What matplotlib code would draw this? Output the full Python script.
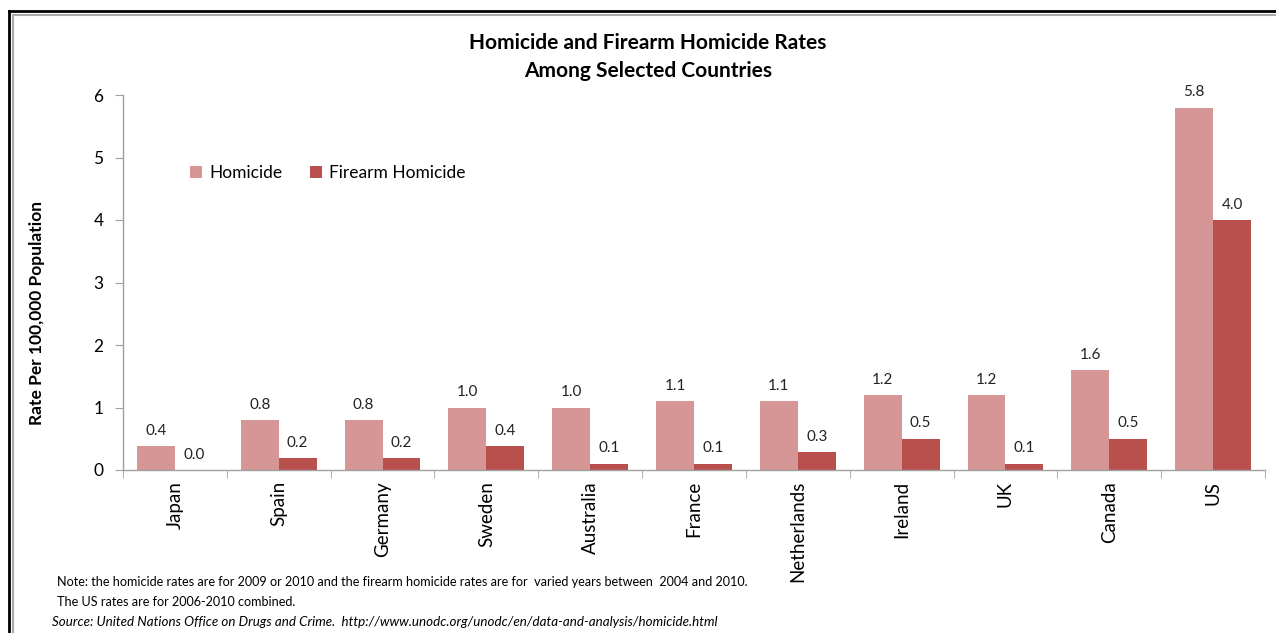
import matplotlib
matplotlib.use("Agg")
import matplotlib.pyplot as plt
from matplotlib.lines import Line2D
import numpy as np

countries = ["Japan", "Spain", "Germany", "Sweden", "Australia", "France",
             "Netherlands", "Ireland", "UK", "Canada", "US"]
homicide = [0.38, 0.8, 0.8, 1.0, 1.0, 1.1, 1.1, 1.2, 1.2, 1.6, 5.8]
firearm = [0.0, 0.19, 0.19, 0.38, 0.1, 0.1, 0.29, 0.5, 0.1, 0.5, 4.0]
yticks = [0, 1, 2, 3, 4, 5, 6]

c_hom = "#D59695"
c_fir = "#B9504E"
FONT = "Lato"

W, H = 1276, 633
fig = plt.figure(figsize=(W / 100, H / 100), dpi=100)

def fx(px):
    return px / W

def fy(py):
    return 1 - py / H

ax = fig.add_axes([fx(123), fy(470), fx(1265) - fx(123), fy(95) - fy(470)])

x = np.arange(len(countries))
bw = 0.365
b1 = ax.bar(x - bw / 2, homicide, bw, color=c_hom, label="Homicide")
b2 = ax.bar(x + bw / 2, firearm, bw, color=c_fir, label="Firearm Homicide")

for rects, vals in ((b1, homicide), (b2, firearm)):
    for r, v in zip(rects, vals):
        ax.annotate(f"{v:.1f}", (r.get_x() + r.get_width() / 2, r.get_height()),
                    xytext=(0, 6), textcoords="offset points", ha="center",
                    va="bottom", fontsize=11, family=FONT, color="#222222")

ax.set_xlim(-0.5, len(countries) - 0.5)
ax.set_ylim(0, 6)
ax.set_yticks(yticks)
ax.set_yticklabels([str(t) for t in yticks], fontsize=12.5, family=FONT)

ax.set_xticks(x)
ax.set_xticklabels(countries, rotation=90, fontsize=13.5, family=FONT, va="top")
ax.tick_params(axis="x", which="major", length=0, pad=8)
ax.set_xticks(np.arange(-0.5, len(countries), 1.0), minor=True)
ax.tick_params(axis="x", which="minor", length=6, color="#A0A0A0", direction="out")
ax.tick_params(axis="y", length=6, color="#A0A0A0", direction="out", pad=8)

for s in ("top", "right"):
    ax.spines[s].set_visible(False)
for s in ("left", "bottom"):
    ax.spines[s].set_color("#A0A0A0")
    ax.spines[s].set_linewidth(1.0)

ax.set_ylabel("Rate Per 100,000 Population", fontsize=12.5, family=FONT,
              fontweight="bold")
ax.yaxis.set_label_coords(fx(37) - fx(123), 0.0, transform=None)
ax.yaxis.label.set_transform(fig.transFigure)
ax.yaxis.label.set_position((fx(37), fy(313)))
ax.yaxis.label.set_verticalalignment("center")

leg = fig.legend(handles=[b1, b2], labels=["Homicide", "Firearm Homicide"],
                 loc="center left", bbox_to_anchor=(fx(190), fy(173)),
                 bbox_transform=fig.transFigure,
                 ncol=2, frameon=False, prop={"family": FONT, "size": 12.5},
                 handlelength=0.7, handleheight=0.7, handletextpad=0.4,
                 columnspacing=1.6, borderpad=0, borderaxespad=0)

fig.text(fx(648), fy(43), "Homicide and Firearm Homicide Rates", ha="center",
         va="center", fontsize=15, fontweight="bold", family=FONT)
fig.text(fx(648), fy(71), "Among Selected Countries", ha="center",
         va="center", fontsize=15, fontweight="bold", family=FONT)

fig.text(fx(57), fy(582), "Note: the homicide rates are for 2009 or 2010 and the firearm homicide rates are for  varied years between  2004 and 2010.",
         ha="left", va="center", fontsize=9.1, family=FONT)
fig.text(fx(57), fy(602), "The US rates are for 2006-2010 combined.",
         ha="left", va="center", fontsize=9.1, family=FONT)
fig.text(fx(52), fy(622), "Source: United Nations Office on Drugs and Crime.  http://www.unodc.org/unodc/en/data-and-analysis/homicide.html",
         ha="left", va="center", fontsize=9.6, family=FONT, style="italic")

# border lines
fig.add_artist(Line2D([fx(9), fx(9)], [fy(11), 0], transform=fig.transFigure, color="black", lw=2))
fig.add_artist(Line2D([fx(13), fx(13)], [fy(15), 0], transform=fig.transFigure, color="#AAAAAA", lw=1.5))
fig.add_artist(Line2D([fx(9), 1], [fy(11), fy(11)], transform=fig.transFigure, color="black", lw=2))
fig.add_artist(Line2D([fx(13), 1], [fy(15), fy(15)], transform=fig.transFigure, color="#AAAAAA", lw=1.5))

fig.savefig("out.png", dpi=100)
